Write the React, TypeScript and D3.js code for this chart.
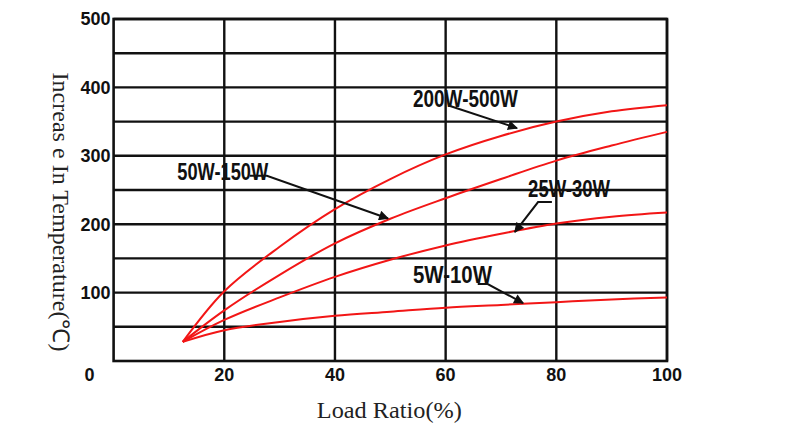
import * as d3 from 'd3';

// load ratio (%) where the curves are read
const loadRatio = [12.5, 20, 30, 40, 50, 60, 70, 80, 90, 100];

// temperature rise (°C) per power class
const rise200to500 = [28, 102, 167, 222, 266, 302, 329, 350, 365, 374];
const rise50to150 = [28, 74, 126, 172, 208, 238, 266, 293, 315, 335];
const rise25to30 = [28, 60, 93, 123, 148, 169, 186, 201, 211, 217];
const rise5to10 = [28, 45, 57, 66, 72, 78, 82, 86, 90, 93];

const seriesNames = ['200W-500W', '50W-150W', '25W-30W', '5W-10W'];
const seriesValues = [rise200to500, rise50to150, rise25to30, rise5to10];

const xTicks = [20, 40, 60, 80, 100];
const yTicks = [100, 200, 300, 400, 500];
const yGrid = [50, 100, 150, 200, 250, 300, 350, 400, 450, 500];

// label anchor and arrow path for each series, in data units
const annotations = [
  {text: [54.1, 371], len: 105, arrow: [[60.8, 372.8], [72.9, 340.5]]},
  {text: [11.5, 264.5], len: 91, arrow: [[24.6, 270.8], [27.7, 270.8], [49.6, 208.3]]},
  {text: [74.9, 239.7], len: 82, arrow: [[79.2, 232.4], [76.7, 232.4], [72.5, 188.5]]},
  {text: [54.1, 113.9], len: 79, arrow: [[65.8, 112.5], [67.6, 112.5], [74.0, 84.7]]},
];

const width = 800;
const height = 438;
const margin = {top: 19, right: 133, bottom: 77, left: 113.6};

const App = () => {
  const x = d3
    .scaleLinear()
    .domain([0, 100])
    .range([margin.left, width - margin.right]);
  const y = d3
    .scaleLinear()
    .domain([0, 500])
    .range([height - margin.bottom, margin.top]);

  const line = d3
    .line<[number, number]>()
    .x((d) => x(d[0]))
    .y((d) => y(d[1]))
    .curve(d3.curveCatmullRom.alpha(0.5));

  const arrowLine = d3
    .line<number[]>()
    .x((d) => x(d[0]))
    .y((d) => y(d[1]));

  const tickFont = {fontFamily: 'Liberation Sans, Arial, sans-serif', fontWeight: 700, fontSize: 18};

  return (
    <svg
      width={width}
      height={height}
      style={{position: 'absolute', left: 0, top: 0, background: '#fff'}}
    >
      <defs>
        <marker
          id='head'
          viewBox='0 0 10 10'
          refX='9'
          refY='5'
          markerWidth='6'
          markerHeight='5'
          orient='auto'
          markerUnits='strokeWidth'
        >
          <path d='M0,0 L10,5 L0,10 Z' fill='#111' />
        </marker>
      </defs>

      {/* grid */}
      {yGrid.map((v) => (
        <line
          key={'h' + v}
          x1={x(0)}
          x2={x(100)}
          y1={y(v)}
          y2={y(v)}
          stroke='#111'
          strokeWidth={2.4}
        />
      ))}
      {xTicks.map((v) => (
        <line
          key={'v' + v}
          x1={x(v)}
          x2={x(v)}
          y1={y(0)}
          y2={y(500)}
          stroke='#111'
          strokeWidth={2.4}
        />
      ))}
      <rect
        x={x(0)}
        y={y(500)}
        width={x(100) - x(0)}
        height={y(0) - y(500)}
        fill='none'
        stroke='#111'
        strokeWidth={2.6}
      />

      {/* tick labels */}
      {yTicks.map((v) => (
        <text
          key={'yl' + v}
          x={x(0) - 3}
          y={y(v)}
          dy='0.35em'
          textAnchor='end'
          style={tickFont}
          fill='#111'
        >
          {v}
        </text>
      ))}
      <text x={x(0) - 24} y={y(0) + 14} dy='0.35em' textAnchor='middle' style={tickFont} fill='#111'>
        0
      </text>
      {xTicks.map((v) => (
        <text
          key={'xl' + v}
          x={x(v)}
          y={y(0) + 14}
          dy='0.35em'
          textAnchor='middle'
          style={tickFont}
          fill='#111'
        >
          {v}
        </text>
      ))}

      {/* axis titles */}
      <text
        x={x(50) - 1}
        y={y(0) + 57}
        textAnchor='middle'
        textLength={145}
        lengthAdjust='spacingAndGlyphs'
        style={{fontFamily: 'Liberation Serif, Times New Roman, serif', fontSize: 23}}
        fill='#222'
      >
        Load Ratio(%)
      </text>
      <text
        transform={`translate(53, ${(72 + 352) / 2}) rotate(90)`}
        textAnchor='middle'
        textLength={279}
        lengthAdjust='spacingAndGlyphs'
        style={{fontFamily: 'Liberation Serif, Times New Roman, serif', fontSize: 23}}
        fill='#222'
      >
        Increas e In Temperature(℃)
      </text>

      {/* curves */}
      {seriesValues.map((vals, i) => (
        <path
          key={seriesNames[i]}
          d={line(loadRatio.map((r, j) => [r, vals[j]] as [number, number])) || ''}
          fill='none'
          stroke='#f21616'
          strokeWidth={2}
        />
      ))}

      {/* annotations */}
      {annotations.map((a, i) => (
        <g key={'a' + i}>
          <path
            d={arrowLine(a.arrow) || ''}
            fill='none'
            stroke='#111'
            strokeWidth={2}
            markerEnd='url(#head)'
          />
          <text
            x={x(a.text[0])}
            y={y(a.text[1])}
            textLength={a.len}
            lengthAdjust='spacingAndGlyphs'
            style={{fontFamily: 'Liberation Sans, Arial, sans-serif', fontWeight: 700, fontSize: 23}}
            fill='#111'
          >
            {seriesNames[i]}
          </text>
        </g>
      ))}
    </svg>
  );
};

export default App;
